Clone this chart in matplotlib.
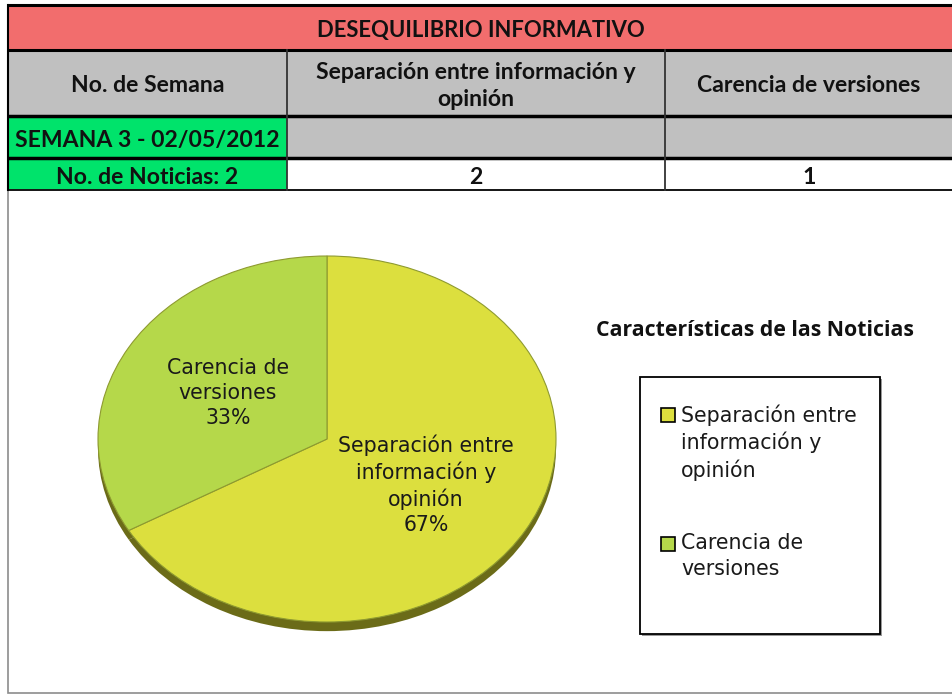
import matplotlib
matplotlib.use("Agg")
import matplotlib.pyplot as plt
from matplotlib.patches import Rectangle

# datos de la tabla / grafico
titulo = "DESEQUILIBRIO INFORMATIVO"
columnas = ["No. de Semana", "Separación entre información y\nopinión", "Carencia de versiones"]
semana = "SEMANA 3 - 02/05/2012"
num_noticias = 2
categorias = ["Separación entre información y opinión", "Carencia de versiones"]
etiquetas = ["Separación entre\ninformación y\nopinión", "Carencia de\nversiones"]
conteos = [2, 1]
colores = ["#DCDF3E", "#B5D84A"]

W, H = 953, 695
fig = plt.figure(figsize=(W / 100, H / 100), dpi=100)
bg = fig.add_axes([0, 0, 1, 1])
bg.set_xlim(0, W)
bg.set_ylim(H, 0)
bg.axis("off")

tfont = dict(family=["Lato", "DejaVu Sans"], weight="bold", fontsize=16.6, color="#111111")
sfont = dict(family="DejaVu Sans", color="#1a1a1a")

# --- tabla ---
xs = [8, 287, 665, 953]
rows = [5, 50, 116, 158, 190]
rojo, gris, verde = "#F26D6D", "#C0C0C0", "#00E36B"

bg.add_patch(Rectangle((xs[0], rows[0]), xs[-1] - xs[0], rows[1] - rows[0], fc=rojo, ec="none"))
for i in range(3):
    bg.add_patch(Rectangle((xs[i], rows[1]), xs[i + 1] - xs[i], rows[2] - rows[1], fc=gris, ec="none"))
    c2 = verde if i == 0 else gris
    c3 = verde if i == 0 else "white"
    bg.add_patch(Rectangle((xs[i], rows[2]), xs[i + 1] - xs[i], rows[3] - rows[2], fc=c2, ec="none"))
    bg.add_patch(Rectangle((xs[i], rows[3]), xs[i + 1] - xs[i], rows[4] - rows[3], fc=c3, ec="none"))

# lineas
for y, lw in zip(rows, [2.2, 2.2, 2.5, 2.5, 1.2]):
    bg.plot([xs[0], xs[-1]], [y, y], color="black", lw=lw, solid_capstyle="butt")
bg.plot([xs[0], xs[0]], [rows[0], rows[-1]], color="black", lw=1.5)
for x in xs[1:3]:
    bg.plot([x, x], [rows[1], rows[-1]], color="#333333", lw=1.3)

cx = [(xs[i] + xs[i + 1]) / 2 for i in range(3)]
bg.text((xs[0] + xs[-1]) / 2, 30, titulo, ha="center", va="center",
        **{**tfont, "fontsize": 15.8})
for i, col in enumerate(columnas):
    bg.text(cx[i], 86, col, ha="center", va="center", linespacing=1.32, **tfont)
bg.text(cx[0], 140, semana, ha="center", va="center", **tfont)
bg.text(cx[0], 177, "No. de Noticias: %d" % num_noticias, ha="center", va="center", **tfont)
for i, v in enumerate(conteos):
    bg.text(cx[i + 1], 177, str(v), ha="center", va="center", **tfont)

# marco del grafico
bg.add_patch(Rectangle((8, 190), W - 8, 503, fc="none", ec="#8C8C8C", lw=1.2))

# --- pastel ---
pcx, pcy, a, b = 327, 439, 229, 183
k = 1.1
ax = fig.add_axes([(pcx - a * k) / W, 1 - (pcy + b * k) / H, 2 * a * k / W, 2 * b * k / H])
ax.pie(conteos, colors=["#6B6B18"] * 2, startangle=90, counterclock=False,
       center=(0, -0.05), wedgeprops=dict(linewidth=0))
wedges, _, autotexts = ax.pie(conteos, colors=colores, startangle=90, counterclock=False,
                              autopct="%1.0f%%", pctdistance=0.5,
                              wedgeprops=dict(edgecolor="#8E9A30", linewidth=0.8),
                              textprops=dict(fontsize=14.8, **sfont))
for t, lab in zip(autotexts, etiquetas):
    t.set_text(lab + "\n" + t.get_text())
    t.set_linespacing(1.32)
ax.set_aspect("auto")
ax.set_xlim(-k, k)
ax.set_ylim(-k, k)
ax.axis("off")

# --- leyenda ---
bg.text(755, 331, "Características de las Noticias", ha="center", va="center",
        fontsize=15.3, fontweight="bold", family=["Open Sans", "DejaVu Sans"], color="#111111")
bg.add_patch(Rectangle((642, 379), 240, 257, fc="#999999", ec="none"))
bg.add_patch(Rectangle((640, 377), 240, 257, fc="white", ec="black", lw=1.3))
for lab, col, y in zip(etiquetas, colores, [408, 537]):
    bg.add_patch(Rectangle((661, y), 14, 14, fc=col, ec="black", lw=1.2))
    bg.text(681, y - 4, lab, ha="left", va="top", fontsize=14.8, linespacing=1.36, **sfont)

fig.savefig("out.png", dpi=100)
